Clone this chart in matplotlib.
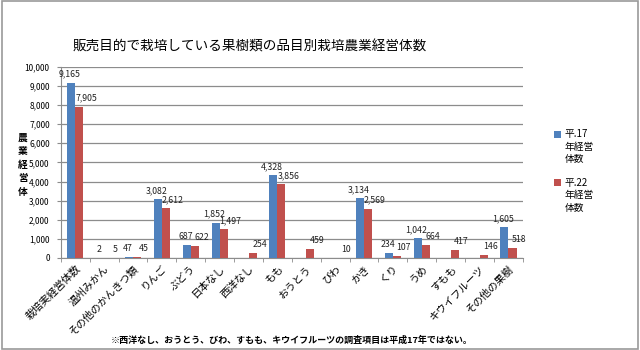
import matplotlib
matplotlib.use("Agg")
import matplotlib.pyplot as plt
from matplotlib.patches import Rectangle
import numpy as np

plt.rcParams['font.family'] = ['Noto Sans CJK JP', 'DejaVu Sans']

# data
categories = ['栽培実経営体数', '温州みかん', 'その他のかんきつ類', 'りんご', 'ぶどう',
              '日本なし', '西洋なし', 'もも', 'おうとう', 'びわ', 'かき', 'くり',
              'うめ', 'すもも', 'キウイフルーツ', 'その他の果樹']
h17 = [9165, 2, 47, 3082, 687, 1852, np.nan, 4328, np.nan, np.nan,
       3134, 234, 1042, np.nan, np.nan, 1605]
h22 = [7905, 5, 45, 2612, 622, 1497, 254, 3856, 459, 10,
       2569, 107, 664, 417, 146, 518]
series_names = ['平.17\n年経営\n体数', '平.22\n年経営\n体数']
colors = ['#4F81BD', '#C0504D']

fig = plt.figure(figsize=(6.4, 3.5), dpi=100)
ax = fig.add_axes([0.095, 0.263, 0.722, 0.546])

x = np.arange(len(categories))
w = 0.28
label_dx = [-1, 5]
for i, (vals, name, c) in enumerate(zip([h17, h22], series_names, colors)):
    ax.bar(x + (i - 0.5) * w, vals, w, color=c, label=name, zorder=3)
    for xi, v in zip(x + (i - 0.5) * w, vals):
        if np.isnan(v):
            continue
        ax.annotate(f'{int(v):,}', (xi, v), xytext=(label_dx[i], 3), textcoords='offset points',
                    ha='center', va='bottom', fontsize=6.3, color='#222222')

ax.set_xlim(-0.5, len(categories) - 0.5)
ax.set_ylim(0, 10000)
ax.set_yticks(np.arange(0, 10001, 1000))
ax.set_yticklabels([f'{v:,}' for v in range(0, 10001, 1000)], fontsize=6)
ax.yaxis.grid(True, color='#8c8c8c', linewidth=0.9, zorder=0)
ax.set_axisbelow(True)

ax.set_xticks(x)
ax.set_xticklabels(categories, rotation=45, ha='right', rotation_mode='anchor', fontsize=7.5)
ax.tick_params(axis='x', length=0, pad=4)
ax.set_xticks(np.arange(-0.5, len(categories)), minor=True)
ax.tick_params(axis='x', which='minor', length=3, color='#8c8c8c', direction='out')
ax.tick_params(axis='y', length=3, color='#8c8c8c', pad=5)

for side in ['top', 'right']:
    ax.spines[side].set_visible(False)
ax.spines['left'].set_color('#8c8c8c')
ax.spines['bottom'].set_color('#8c8c8c')

leg = fig.legend(loc='upper left', bbox_to_anchor=(0.866, 0.63), frameon=False,
                 fontsize=7, handlelength=0.65, handleheight=0.65, handletextpad=0.45,
                 labelspacing=1.4, borderpad=0, borderaxespad=0)
for t in leg.get_texts():
    t.set_linespacing(1.3)
for h in leg.legend_handles:
    h.set_y(h.get_y() + 9.5)

fig.text(0.114, 0.866, '販売目的で栽培している果樹類の品目別栽培農業経営体数',
         fontsize=9.8, va='center', ha='left')
fig.text(0.036, 0.529, '農\n業\n経\n営\n体', fontsize=7, fontweight='bold',
         ha='center', va='center', linespacing=1.45)
fig.text(0.455, 0.029, '※西洋なし、おうとう、びわ、すもも、キウイフルーツの調査項目は平成17年ではない。',
         fontsize=6.5, fontweight='bold', ha='center', va='center')

fig.patches.append(Rectangle((0.003, 0.004), 0.994, 0.992, transform=fig.transFigure,
                             fill=False, edgecolor='#9a9a9a', linewidth=1.2))

fig.savefig('out.png', dpi=100)
